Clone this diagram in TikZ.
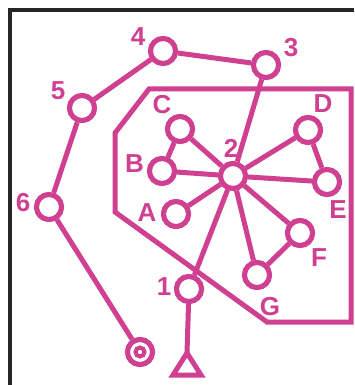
\documentclass[tikz,border=0pt]{standalone}
\usepackage{fontspec}
\setmainfont{Liberation Sans}
\begin{document}
\begin{tikzpicture}[x=1pt,y=-1pt,
  pk/.style={draw=pinkc,line width=5pt},
  vtx/.style={circle,draw=pinkc,line width=5pt,fill=white,minimum size=25pt,inner sep=0pt},
  lbl/.style={text=pinkc,font=\fontsize{26}{26}\selectfont\bfseries,inner sep=0pt}]
\definecolor{pinkc}{HTML}{CF4091}
\useasboundingbox (0,0) rectangle (354,385);
\fill[white] (0,0) rectangle (354,385);
% frame
\draw[line width=3.5pt,color=black!85] (10,385) -- (10,10) -- (354,10);
% region polygon
\draw[pk,line join=miter] (149,89) -- (351,89) -- (351,322) -- (267,322) -- (115,212) -- (115,133) -- cycle;
% nodes
\node[vtx] (n4) at (163,51) {};
\node[vtx] (n3) at (266,65) {};
\node[vtx] (n5) at (82,108) {};
\node[vtx] (n6) at (49,207) {};
\node[vtx] (nC) at (180,129) {};
\node[vtx] (nD) at (308,130) {};
\node[vtx] (nB) at (162,171) {};
\node[vtx] (n2) at (233,176) {};
\node[vtx] (nE) at (327,182) {};
\node[vtx] (nA) at (176,214) {};
\node[vtx] (nF) at (300,233) {};
\node[vtx] (nG) at (257,275) {};
\node[vtx] (n1) at (189,289) {};
\node[vtx] (tgt) at (140,352) {};
\coordinate (tri) at (187,353);
% edges
\draw[pk] (n6) -- (n5) (n5) -- (n4) (n4) -- (n3) (n3) -- (n2)
  (nC) -- (nB) (nC) -- (n2) (nB) -- (n2) (nA) -- (n2)
  (nD) -- (n2) (nD) -- (nE) (nE) -- (n2) (nF) -- (n2)
  (nF) -- (nG) (nG) -- (n2) (n2) -- (n1) (n1) -- (tri)
  (n6) -- (tgt);
% redraw nodes on top
\foreach \n in {n4,n3,n5,n6,nC,nD,nB,n2,nE,nA,nF,nG,n1,tgt}
  \draw[pk,fill=white] (\n) circle (12.5pt);
\draw[pk,line width=4pt] (tgt) circle (4.5pt);
\draw[pk,line join=miter,fill=white] (tri) -- (201,375) -- (173,375) -- cycle;
% labels
\node[lbl] (l4) at (138,37) {4};
\node[lbl] (l3) at (291,48) {3};
\node[lbl] (l5) at (58,91) {5};
\node[lbl] (l6) at (23,203) {6};
\node[lbl] (lC) at (162,105) {C};
\node[lbl] (lD) at (323,104) {D};
\node[lbl] (l2) at (231,148) {2};
\node[lbl] (lB) at (134.5,163.5) {B};
\node[lbl] (lE) at (338,210) {E};
\node[lbl] (lA) at (147,213) {A};
\node[lbl] (lF) at (319,258) {F};
\node[lbl] (l1) at (164,287) {1};
\node[lbl] (lG) at (270,307) {G};
\end{tikzpicture}
\end{document}
